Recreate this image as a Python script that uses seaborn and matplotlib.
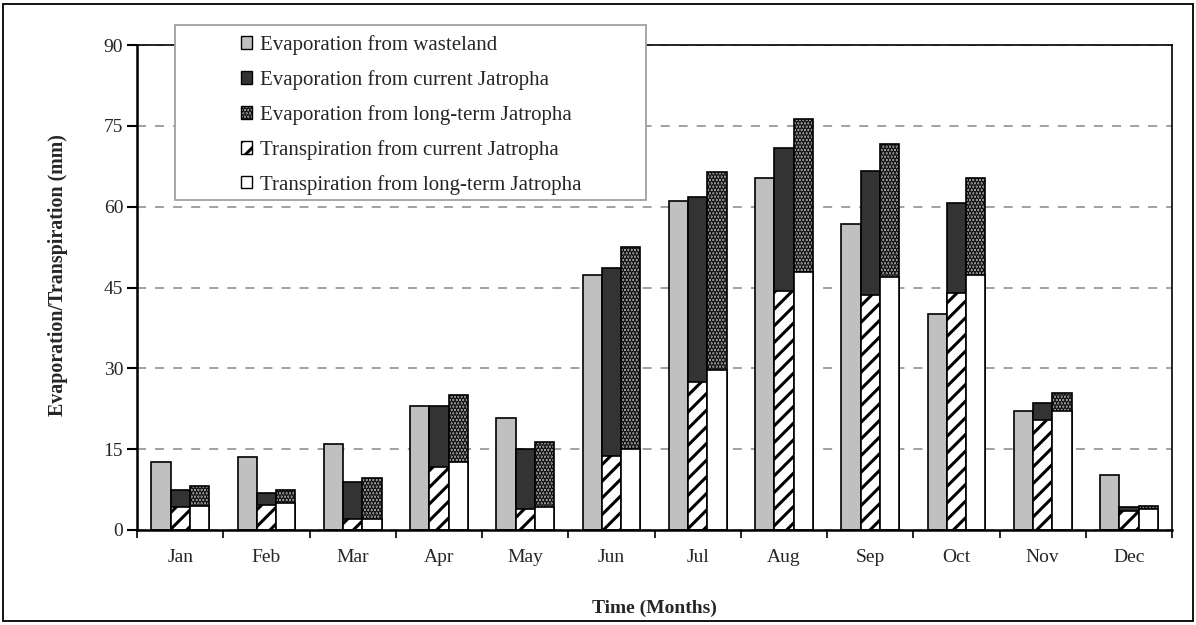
"""
Evaporation / transpiration per month: wasteland vs current and long-term Jatropha.
"""
import numpy as np
import pandas as pd
import matplotlib
matplotlib.use('Agg')
import matplotlib.pyplot as plt
import seaborn as sns
from matplotlib.patches import Patch, Rectangle

# Dados (mm)
months = ['Jan', 'Feb', 'Mar', 'Apr', 'May', 'Jun', 'Jul', 'Aug', 'Sep', 'Oct', 'Nov', 'Dec']
evap_wasteland = [12.6, 13.5, 16.0, 23.1, 20.8, 47.3, 61.1, 65.4, 56.7, 40.1, 22.1, 10.2]
evap_current = [3.3, 2.2, 7.0, 11.4, 11.1, 34.9, 34.3, 26.4, 22.9, 16.6, 3.2, 0.6]
evap_longterm = [3.6, 2.5, 7.5, 12.5, 12.1, 37.5, 36.9, 28.3, 24.6, 18.0, 3.3, 0.6]
transp_current = [4.2, 4.7, 2.0, 11.7, 3.9, 13.7, 27.5, 44.4, 43.7, 44.0, 20.4, 3.6]
transp_longterm = [4.5, 5.0, 2.1, 12.6, 4.2, 15.0, 29.6, 47.9, 47.0, 47.3, 22.1, 3.9]

series = ['wasteland', 'current', 'longterm']
legend_labels = ['Evaporation from wasteland',
                 'Evaporation from current Jatropha',
                 'Evaporation from long-term Jatropha',
                 'Transpiration from current Jatropha',
                 'Transpiration from long-term Jatropha']

# tabela longa: topo da pilha (transp + evap) e parte de transpiração
rows = []
for i, m in enumerate(months):
    rows.append({'month': m, 'series': 'wasteland', 'top': evap_wasteland[i], 'transp': np.nan})
    rows.append({'month': m, 'series': 'current',
                 'top': transp_current[i] + evap_current[i], 'transp': transp_current[i]})
    rows.append({'month': m, 'series': 'longterm',
                 'top': transp_longterm[i] + evap_longterm[i], 'transp': transp_longterm[i]})
df = pd.DataFrame(rows)

sns.set_style('white')
plt.rcParams['font.family'] = ['Liberation Serif', 'DejaVu Serif']
plt.rcParams['hatch.linewidth'] = 2.2

fig = plt.figure(figsize=(11.96, 6.25), dpi=100)
ax = fig.add_axes([0.1146, 0.152, 0.8654, 0.776])

bar_w = 0.67
sns.barplot(data=df, x='month', y='top', hue='series', hue_order=series, order=months,
            palette={'wasteland': '#c0c0c0', 'current': '#333333', 'longterm': '#b4b4b4'},
            width=bar_w, saturation=1, errorbar=None, edgecolor='black', linewidth=1.2,
            legend=False, ax=ax)
n_first = len(ax.containers)
sns.barplot(data=df[df['series'] != 'wasteland'], x='month', y='transp', hue='series',
            hue_order=series, order=months,
            palette={'wasteland': 'white', 'current': 'white', 'longterm': 'white'},
            width=bar_w, saturation=1, errorbar=None, edgecolor='black', linewidth=1.2,
            legend=False, ax=ax)

# padrões: pontilhado para evap longo prazo, listras para transp atual
for bar in ax.containers[2]:
    bar.set_hatch('.....')
transp_conts = [c for c in ax.containers[n_first:] if len(c) > 0]
for bar in transp_conts[0]:
    bar.set_hatch('//')

ax.set_xlim(-0.5, 11.5)
ax.set_ylim(0, 90)
ax.set_yticks(np.arange(0, 91, 15))
ax.set_xticks(np.arange(12))
ax.set_xticklabels(months)
ax.set_xticks(np.arange(-0.5, 12, 1), minor=True)
ax.tick_params(axis='x', which='major', length=0, pad=14, labelsize=14)
ax.tick_params(axis='x', which='minor', direction='out', length=6, width=1.2, color='black', bottom=True)
ax.tick_params(axis='y', direction='out', length=7, width=1.5, color='black', left=True, labelsize=14, pad=3)

ax.set_axisbelow(True)
ax.grid(axis='y', color='#9a9a9a', linestyle=(0, (5, 5)), linewidth=1.3)
ax.grid(axis='x', visible=False)

for side in ['left', 'bottom']:
    ax.spines[side].set_color('black')
    ax.spines[side].set_linewidth(1.8)
for side in ['top', 'right']:
    ax.spines[side].set_color('black')
    ax.spines[side].set_linewidth(1.2)

ax.set_xlabel('Time (Months)', fontsize=14, fontweight='bold', labelpad=24)
ax.set_ylabel('Evaporation/Transpiration (mm)', fontsize=14.4, fontweight='bold')
ax.yaxis.set_label_coords(-0.067, 0.526)

# legenda com caixa estilo Excel
fig.patches.append(Rectangle((175 / 1196, 1 - 200 / 625), 471 / 1196, 175 / 625,
                             transform=fig.transFigure, facecolor='white',
                             edgecolor='#a0a0a0', linewidth=1.3, zorder=3))
handles = [
    Patch(facecolor='#c0c0c0', edgecolor='black', linewidth=1.0),
    Patch(facecolor='#333333', edgecolor='black', linewidth=1.0),
    Patch(facecolor='#b4b4b4', edgecolor='black', linewidth=1.0, hatch='.....'),
    Patch(facecolor='white', edgecolor='black', linewidth=1.0, hatch='//'),
    Patch(facecolor='white', edgecolor='black', linewidth=1.0),
]
leg = fig.legend(handles, legend_labels, loc='upper left',
                 bbox_to_anchor=(241 / 1196, 1 - 35 / 625), frameon=False,
                 fontsize=15, handlelength=0.55, handleheight=0.55,
                 handletextpad=0.35, labelspacing=0.72, borderpad=0, borderaxespad=0)
leg.set_zorder(4)

# moldura externa
fig.patches.append(Rectangle((3 / 1196, 4 / 625), 1190 / 1196, 617 / 625,
                             transform=fig.transFigure, facecolor='none',
                             edgecolor='black', linewidth=1.3, zorder=0))

plt.savefig('out.png', dpi=100)
plt.close()
